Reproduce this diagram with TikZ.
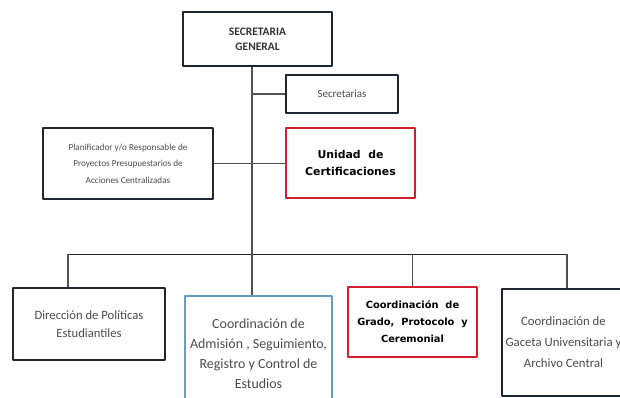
\documentclass[tikz,border=0pt]{standalone}
\usepackage{fontspec}
\setmainfont{Carlito}
\newfontfamily\widebold{DejaVu Sans}
\definecolor{boxline}{HTML}{1E2532}
\definecolor{unitred}{HTML}{D21F2D}
\definecolor{unitblue}{HTML}{6A9CCB}
\definecolor{linkgray}{HTML}{505050}
\definecolor{textgray}{HTML}{4C4C4C}
\tikzset{
  unitbox/.style={draw=boxline,line width=1.5pt,fill=white,align=center,inner sep=0pt,text=textgray},
  redbox/.style={unitbox,draw=unitred},
  bluebox/.style={unitbox,draw=unitblue},
  link/.style={draw=linkgray,line width=1.1pt},
}
\begin{document}
\begin{tikzpicture}[line join=bevel,]
\useasboundingbox (0bp,0bp) rectangle (620bp,398bp);
%%
\node (sg) at (257.5bp,359bp) [unitbox,minimum width=149bp,minimum height=54bp,text=black!80,font=\bfseries\fontsize{11.5}{15}\selectfont] {SECRETARIA\\GENERAL};
  \node (sec) at (342bp,304bp) [unitbox,minimum width=112bp,minimum height=38bp,font=\fontsize{11}{12}\selectfont] {Secretarias};
  \node (plan) at (128bp,234.5bp) [unitbox,minimum width=170bp,minimum height=71bp,font=\fontsize{9.2}{16.5}\selectfont] {Planificador y/o Responsable de\\Proyectos Presupuestarios de\\Acciones Centralizadas};
  \node (uni) at (350.5bp,235bp) [redbox,minimum width=129bp,minimum height=70bp,text=black,font=\widebold\bfseries\fontsize{10.9}{17}\selectfont] {Unidad~ de\\Certificaciones};
  \node (dir) at (89bp,74bp) [unitbox,minimum width=152bp,minimum height=72bp,font=\fontsize{12.7}{18}\selectfont] {Dirección de Políticas\\Estudiantiles};
  \node (adm) at (258.5bp,44bp) [bluebox,minimum width=147bp,minimum height=116bp,font=\fontsize{14}{20}\selectfont] {Coordinación de\\Admisión , Seguimiento,\\Registro y Control de\\Estudios};
  \node (grado) at (412.5bp,76bp) [redbox,minimum width=129bp,minimum height=70bp,text=black,font=\widebold\bfseries\fontsize{9.9}{17}\selectfont] {Coordinación~ de\\Grado,~ Protocolo~ y\\Ceremonial};
  \node (gac) at (563.5bp,55.5bp) [unitbox,minimum width=123bp,minimum height=107bp,font=\fontsize{12.8}{21}\selectfont] {Coordinación de\\Gaceta Univensitaria y\\Archivo Central};
%
\coordinate (bus_l) at (68bp,143.5bp);
  \coordinate (bus_m) at (252bp,143.5bp);
  \coordinate (bus_r) at (567bp,143.5bp);
  \draw [link] (sg.south -| bus_m) -- (bus_m);
  \draw [link] (sec.west -| bus_m) -- (sec.west);
  \draw [link] (plan.east) -- (plan.east -| uni.west);
  \draw [link,draw=black!85] (bus_l) -- (bus_r);
  \draw [link] (bus_l) -- (bus_l |- dir.north);
  \draw [link] (bus_m) -- (bus_m |- adm.north);
  \draw [link] (bus_m -| grado.north) -- (grado.north);
  \draw [link] (bus_r) -- (bus_r |- gac.north);
%
\end{tikzpicture}
\end{document}
